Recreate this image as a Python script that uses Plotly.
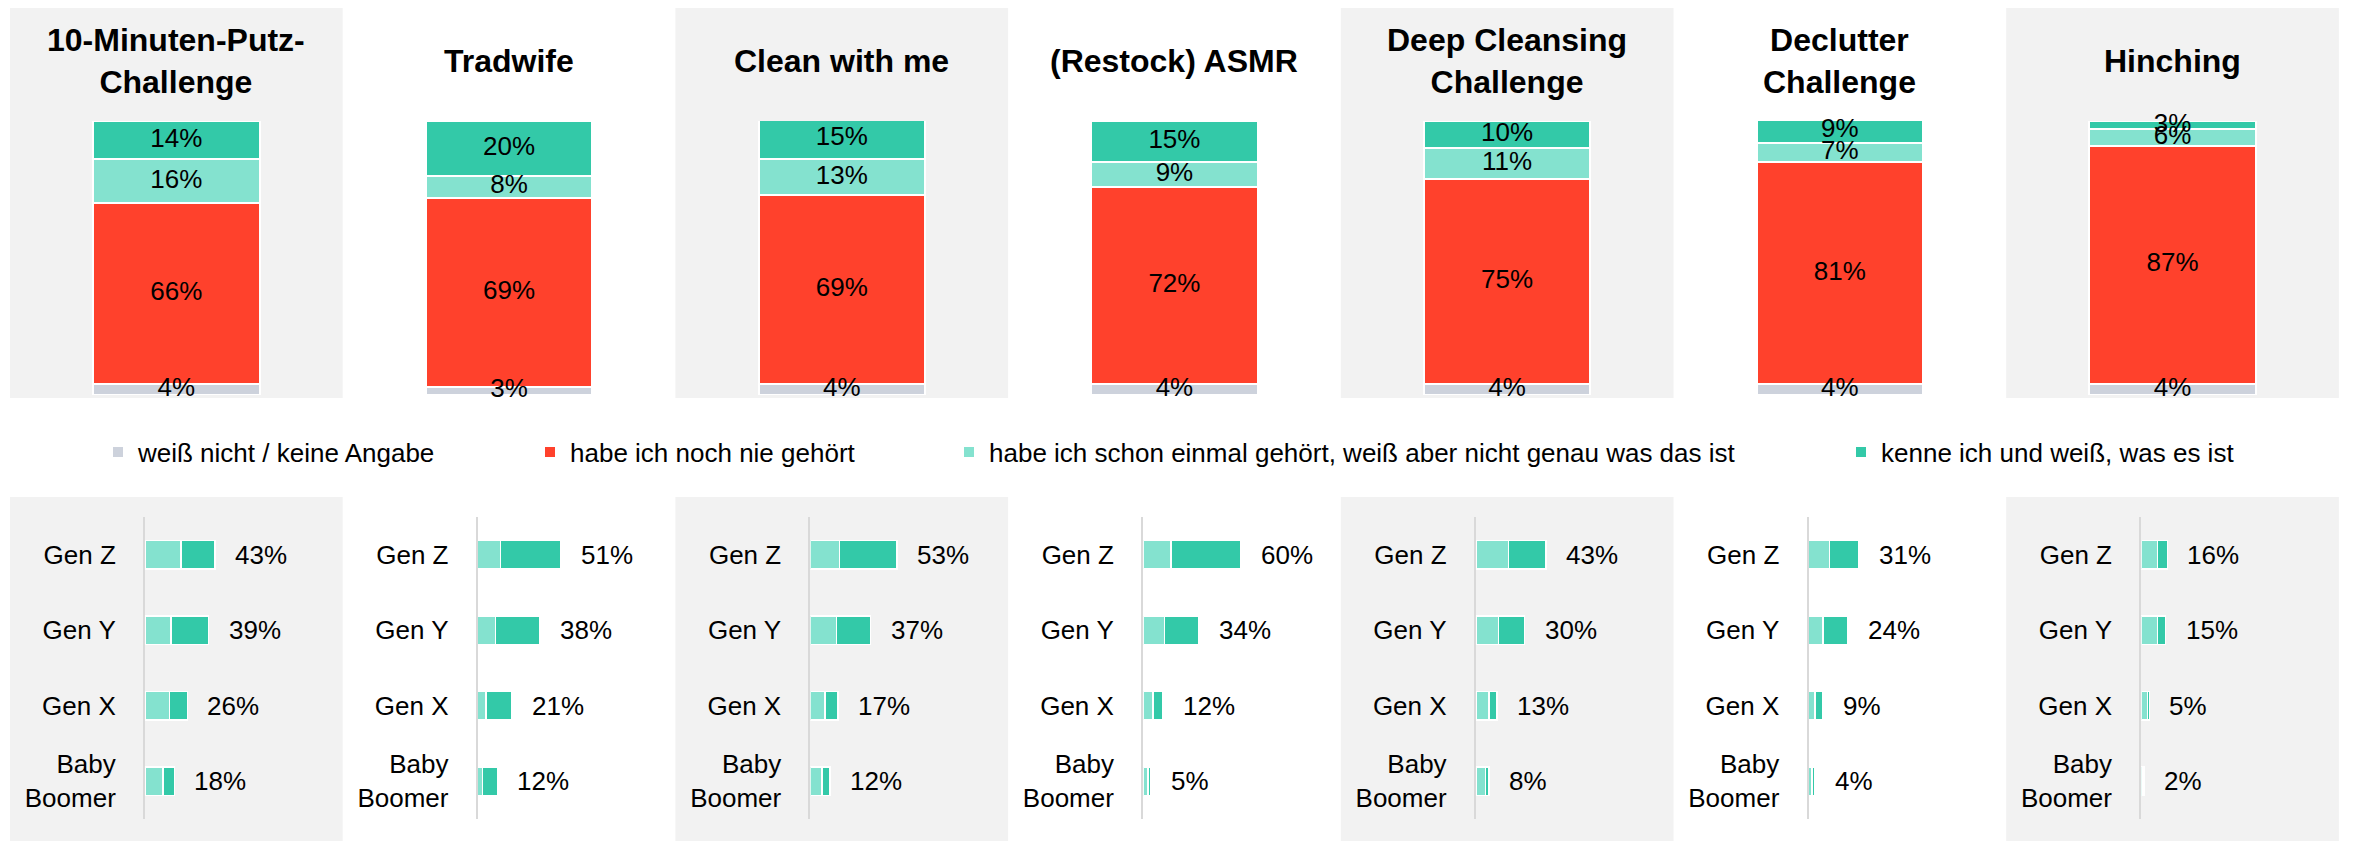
import plotly.graph_objects as go

# page is 2354x841; the browser body has an 8px margin, so the figure is offset by 8px
PAGE_W, PAGE_H = 2354, 841
OFF = 8
W, H = PAGE_W - OFF, PAGE_H - OFF

# ---------------- data ----------------
topics = ["10-Minuten-Putz-<br>Challenge", "Tradwife", "Clean with me", "(Restock) ASMR",
          "Deep Cleansing<br>Challenge", "Declutter<br>Challenge", "Hinching"]
weiss_nicht = [4, 3, 4, 4, 4, 4, 4]
nie_gehoert = [66, 69, 69, 72, 75, 81, 87]
schon_gehoert = [16, 8, 13, 9, 11, 7, 6]
kenne = [14, 20, 15, 15, 10, 9, 3]

series_names = ["weiß nicht / keine Angabe", "habe ich noch nie gehört",
                "habe ich schon einmal gehört, weiß aber nicht genau was das ist",
                "kenne ich und weiß, was es ist"]

generations = ["Gen Z", "Gen Y", "Gen X", "Baby<br>Boomer"]
gen_schon_gehoert = [
    [22, 16, 15, 11],
    [14, 11, 5, 3],
    [18, 16, 9, 7],
    [17, 13, 6, 3],
    [20, 14, 8, 6],
    [13, 9, 4, 2],
    [10, 10, 4, 1],
]
gen_kenne = [
    [21, 23, 11, 7],
    [37, 27, 16, 9],
    [35, 21, 8, 5],
    [43, 21, 6, 2],
    [23, 16, 5, 2],
    [18, 15, 5, 2],
    [6, 5, 1, 1],
]
gen_total_labels = [
    [43, 39, 26, 18],
    [51, 38, 21, 12],
    [53, 37, 17, 12],
    [60, 34, 12, 5],
    [43, 30, 13, 8],
    [31, 24, 9, 4],
    [16, 15, 5, 2],
]

# ---------------- styles ----------------
C_GRAY = "#CDD2DC"
C_RED = "#FF412C"
C_LIGHT = "#84E2CF"
C_DARK = "#33C9A8"
BG = "#F2F2F2"
FONT = "Arial, 'Liberation Sans', sans-serif"
colors = [C_GRAY, C_RED, C_LIGHT, C_DARK]

PANEL_L = 10
PANEL_W = 332.7
TOP_Y0, TOP_Y1 = 395, 121       # page rows of 0% and 100%
BOT_Y0, BOT_Y1 = 819, 517       # y-axis domain (page rows)
AX_OFF = 135                    # axis offset inside bottom panel
PX_PER_PCT = 1.63


def px(x):
    return min(max((x - OFF) / W, 0), 1)


def py(y):
    return min(max((H - (y - OFF)) / H, 0), 1)


fig = go.Figure()
layout = dict(
    width=W, height=H,
    margin=dict(l=0, r=0, t=0, b=0),
    paper_bgcolor="white", plot_bgcolor="rgba(0,0,0,0)",
    barmode="stack",
    font=dict(family=FONT, size=26, color="black"),
    shapes=[], annotations=[],
)

top_series = [weiss_nicht, nie_gehoert, schon_gehoert, kenne]
legend_keys = ["legend", "legend2", "legend3", "legend4"]

for i in range(7):
    left = PANEL_L + i * PANEL_W
    xa = "x" if i == 0 else f"x{i+1}"
    ya = "y" if i == 0 else f"y{i+1}"
    xk = "xaxis" if i == 0 else f"xaxis{i+1}"
    yk = "yaxis" if i == 0 else f"yaxis{i+1}"
    layout[xk] = dict(domain=[px(left), px(left + PANEL_W)], range=[-0.5, 0.5],
                      visible=False, anchor=ya, fixedrange=True)
    layout[yk] = dict(domain=[py(TOP_Y0), py(TOP_Y1)], range=[0, 100],
                      visible=False, anchor=xa, fixedrange=True)

    # panel backgrounds
    if i % 2 == 0:
        layout["shapes"].append(dict(type="rect", xref="paper", yref="paper",
                                     x0=px(left), x1=px(left + PANEL_W),
                                     y0=py(398), y1=py(7), fillcolor=BG,
                                     line=dict(width=0), layer="below"))
        layout["shapes"].append(dict(type="rect", xref="paper", yref="paper",
                                     x0=px(left), x1=px(left + PANEL_W),
                                     y0=0, y1=py(497), fillcolor=BG,
                                     line=dict(width=0), layer="below"))

    # stacked top bar
    base = 0
    mids, labels = [], []
    for s, (vals, col) in enumerate(zip(top_series, colors)):
        v = vals[i]
        fig.add_trace(go.Bar(
            x=[0], y=[v], width=0.5, xaxis=xa, yaxis=ya,
            marker=dict(color=col, line=dict(color="white", width=2)),
            name=series_names[s], showlegend=(i == 0), legend=legend_keys[s],
            hoverinfo="skip",
        ))
        mids.append(base + v / 2)
        labels.append(f"{v}%")
        base += v
    fig.add_trace(go.Scatter(
        x=[0] * len(mids), y=mids, text=labels, mode="text",
        textposition="middle center", xaxis=xa, yaxis=ya,
        textfont=dict(family=FONT, size=26, color="black"),
        showlegend=False, cliponaxis=False, hoverinfo="skip",
    ))

    # title
    layout["annotations"].append(dict(
        text=f"<b>{topics[i]}</b>", xref="paper", yref="paper",
        x=px(left + PANEL_W / 2), y=py(61), xanchor="center", yanchor="middle",
        showarrow=False, font=dict(family=FONT, size=32, color="black"),
    ))

    # bottom: generations
    j = i + 8
    bxa, bya = f"x{j}", f"y{j}"
    x_from = left + AX_OFF
    x_to = left + PANEL_W
    layout[f"xaxis{j}"] = dict(domain=[px(x_from), px(x_to)],
                               range=[0, (x_to - x_from) / PX_PER_PCT],
                               visible=False, anchor=bya, fixedrange=True)
    layout[f"yaxis{j}"] = dict(domain=[py(BOT_Y0), py(BOT_Y1)], anchor=bxa,
                               type="category", autorange="reversed",
                               showline=True, linecolor="#D9D9D9", linewidth=2,
                               showgrid=False, zeroline=False,
                               ticks="outside", ticklen=22, tickcolor="rgba(0,0,0,0)",
                               tickfont=dict(family=FONT, size=26, color="black"),
                               fixedrange=True)
    fig.add_trace(go.Bar(
        y=generations, x=gen_schon_gehoert[i], orientation="h", width=0.38,
        xaxis=bxa, yaxis=bya, marker=dict(color=C_LIGHT, line=dict(color="white", width=1.5)),
        showlegend=False, hoverinfo="skip",
    ))
    fig.add_trace(go.Bar(
        y=generations, x=gen_kenne[i], orientation="h", width=0.38,
        xaxis=bxa, yaxis=bya, marker=dict(color=C_DARK, line=dict(color="white", width=1.5)),
        showlegend=False, hoverinfo="skip",
    ))
    for k in range(len(generations)):
        layout["annotations"].append(dict(
            text=f"{gen_total_labels[i][k]}%", xref=bxa, yref=bya,
            x=gen_schon_gehoert[i][k] + gen_kenne[i][k], y=k,
            xanchor="left", yanchor="middle", xshift=18, showarrow=False,
            font=dict(family=FONT, size=26, color="black"),
        ))

# legends
legend_text_x = [138, 570, 989, 1881]
for key, tx in zip(legend_keys, legend_text_x):
    layout[key] = dict(orientation="h", x=px(tx - 40), y=py(452), xanchor="left",
                       yanchor="middle", bgcolor="rgba(0,0,0,0)", borderwidth=0,
                       font=dict(family=FONT, size=26, color="black"),
                       itemclick=False, itemdoubleclick=False)

fig.update_layout(**layout)
fig.write_html("out.html")
